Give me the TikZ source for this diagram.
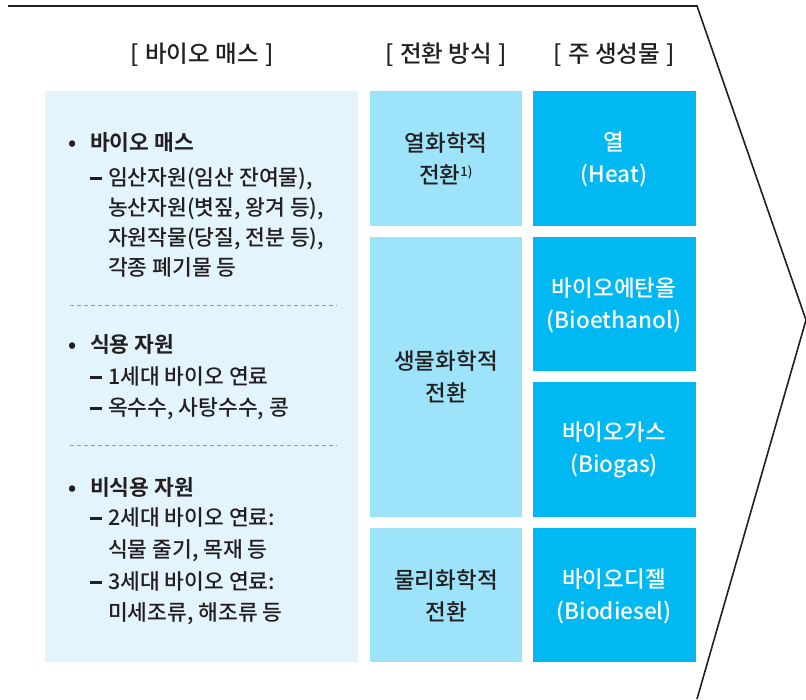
\documentclass[tikz,border=0pt]{standalone}
\usepackage{fontspec}
\setmainfont{Noto Sans CJK KR}[UprightFont={* Medium},BoldFont={* Bold}]
\definecolor{leftbg}{HTML}{E3F4FD}
\definecolor{midbg}{HTML}{9DE3FA}
\definecolor{rightbg}{HTML}{00B9F2}
\definecolor{ink}{HTML}{231F20}
\definecolor{dashgray}{HTML}{9A9A9A}
\newcommand{\subdash}{\rule[5.5pt]{12pt}{3pt}\hspace{6pt}}
\tikzset{
  panel/.style={fill=#1, draw=none},
  hdr/.style={font=\fontsize{23.5}{27}\selectfont, text=ink, anchor=center, inner sep=0pt},
  boldline/.style={font=\fontsize{21.5}{25}\selectfont\bfseries, text=ink, anchor=west, inner sep=0pt, text height=16pt, text depth=2pt},
  subline/.style={font=\fontsize{21.5}{25}\selectfont, text=ink, anchor=west, inner sep=0pt, text height=16pt, text depth=2pt},
  midtext/.style={font=\fontsize{22.5}{32}\selectfont, text=ink, align=center, inner sep=0pt},
  righttext/.style={font=\fontsize{22.5}{32}\selectfont, text=white, align=center, inner sep=0pt},
  sep/.style={draw=dashgray, line width=0.8pt, dash pattern=on 4pt off 3pt},
  frame/.style={draw=ink, line width=1.6pt}
}
\begin{document}
\begin{tikzpicture}[x=1pt,y=-1pt]
\useasboundingbox (0,0) rectangle (806,699);
% outline
\coordinate (f1) at (8,6);
\coordinate (f2) at (697,6);
\coordinate (f3) at (806,320);
\coordinate (f4) at (697,699);
\draw[frame] (f1) -- (f2) -- (f3) -- (f4);
% headers
\node[hdr] (h1) at (202,55) {[\hspace{0.28em}바이오 매스\hspace{0.28em}]};
\node[hdr] (h2) at (446,55) {[\hspace{0.28em}전환 방식\hspace{0.28em}]};
\node[hdr] (h3) at (614,55) {[\hspace{0.28em}주 생성물\hspace{0.28em}]};
% left panel
\path[panel=leftbg] (45,91) rectangle (358,662);
\node[boldline] (p1) at (68,143) {•};
\node[boldline] (b1) at (90,143) {바이오 매스};
\node[subline] (s11) at (90,178) {\subdash 임산자원(임산 잔여물),};
\node[subline] (s12) at (108,208) {농산자원(볏짚, 왕겨 등),};
\node[subline] (s13) at (108,238) {자원작물(당질, 전분 등),};
\node[subline] (s14) at (108,268) {각종 폐기물 등};
\coordinate (d1a) at (70,305);
\coordinate (d1b) at (337,305);
\draw[sep] (d1a) -- (d1b);
\node[boldline] (p2) at (68,345) {•};
\node[boldline] (b2) at (90,345) {식용 자원};
\node[subline] (s21) at (90,377) {\subdash 1세대 바이오 연료};
\node[subline] (s22) at (90,408) {\subdash 옥수수, 사탕수수, 콩};
\coordinate (d2a) at (70,445);
\coordinate (d2b) at (337,445);
\draw[sep] (d2a) -- (d2b);
\node[boldline] (p3) at (68,488) {•};
\node[boldline] (b3) at (90,488) {비식용 자원};
\node[subline] (s31) at (90,518) {\subdash 2세대 바이오 연료:};
\node[subline] (s32) at (108,550) {식물 줄기, 목재 등};
\node[subline] (s33) at (90,582) {\subdash 3세대 바이오 연료:};
\node[subline] (s34) at (108,613) {미세조류, 해조류 등};
% middle column
\path[panel=midbg] (370,91) rectangle (522,226);
\path[panel=midbg] (370,237) rectangle (522,517);
\path[panel=midbg] (370,528) rectangle (522,662);
\node[midtext] (m1) at (446,159) {열화학적\\전환\textsuperscript{\fontsize{13}{13}\selectfont 1)}};
\node[midtext] (m2) at (446,377) {생물화학적\\전환};
\node[midtext] (m3) at (446,596) {물리화학적\\전환};
% right column
\path[panel=rightbg] (533,91) rectangle (696,226);
\path[panel=rightbg] (533,237) rectangle (696,371);
\path[panel=rightbg] (533,382) rectangle (696,517);
\path[panel=rightbg] (533,528) rectangle (696,662);
\node[righttext] (r1) at (614,159) {열\\(Heat)};
\node[righttext] (r2) at (614,305) {바이오에탄올\\(Bioethanol)};
\node[righttext] (r3) at (614,450) {바이오가스\\(Biogas)};
\node[righttext] (r4) at (614,596) {바이오디젤\\(Biodiesel)};
\end{tikzpicture}
\end{document}
